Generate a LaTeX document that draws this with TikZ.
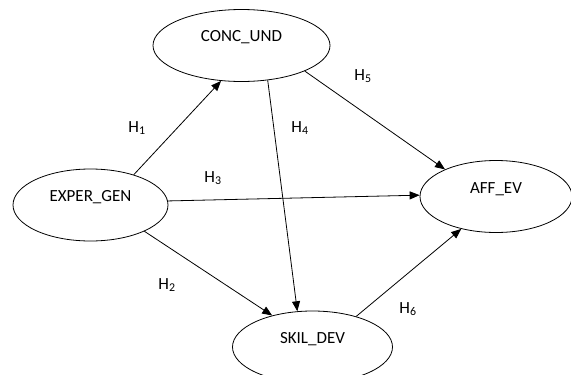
\documentclass[tikz,border=0pt]{standalone}
\usepackage{fontspec}
\setmainfont{Carlito}
\usetikzlibrary{arrows.meta, shapes.geometric}

\begin{document}
\begin{tikzpicture}[
    x=1pt, y=-1pt,
    every node/.style={font=\fontsize{17pt}{20pt}\selectfont},
    construct/.style={draw, ellipse, line width=0.8pt, minimum height=72pt, inner sep=0pt},
    hyp/.style={-{Triangle[length=10pt, width=8pt]}, line width=0.8pt},
]
\useasboundingbox (0,0) rectangle (571,375);

% constructs
\node[construct, minimum width=177pt, label={[yshift=8pt]center:CONC\_UND}] (conc) at (241.5, 45.5) {};
\node[construct, minimum width=155pt, label={[yshift=8pt]center:EXPER\_GEN}] (exper) at (90.5, 205) {};
\node[construct, minimum width=152pt, label={[yshift=7pt]center:AFF\_EV}] (aff) at (496, 196.5) {};
\node[construct, minimum width=160pt, label={[yshift=8pt]center:SKIL\_DEV}] (skil) at (312.5, 347) {};

% hypotheses
\draw[hyp] (exper.35) -- (conc.240);
\draw[hyp] (exper.334) -- (skil.142);
\draw[hyp] (exper.3) -- (aff.179);
\draw[hyp] (conc.307) -- (skil.113);
\draw[hyp] (conc.338) -- (aff.152);
\draw[hyp] (skil.35) -- (aff.223);

% labels
\node (h1) at (137, 128) {H\textsubscript{1}};
\node (h2) at (167, 285) {H\textsubscript{2}};
\node (h3) at (213, 178) {H\textsubscript{3}};
\node (h4) at (300, 128) {H\textsubscript{4}};
\node (h5) at (363, 76) {H\textsubscript{5}};
\node (h6) at (408, 309) {H\textsubscript{6}};

\end{tikzpicture}
\end{document}
